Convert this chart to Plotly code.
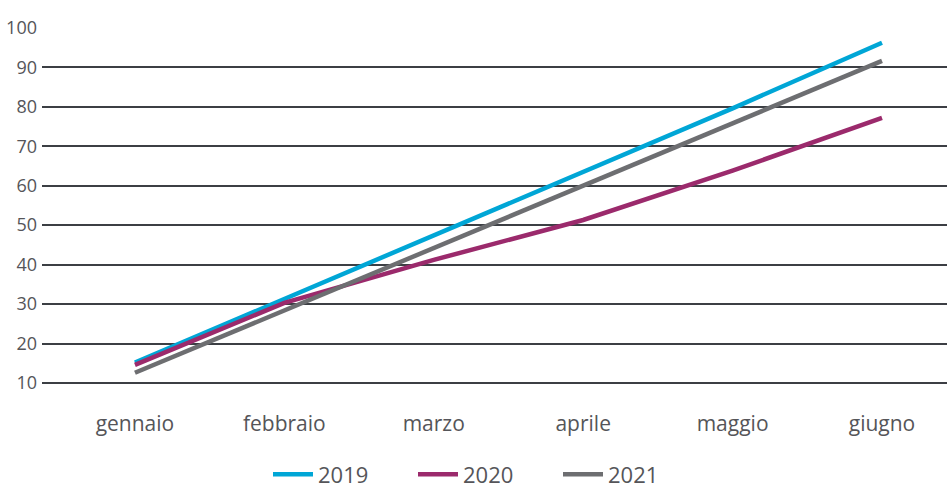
import plotly.graph_objects as go

months = ["gennaio", "febbraio", "marzo", "aprile", "maggio", "giugno"]
series_names = ["2019", "2020", "2021"]
values_2019 = [15.2, 31.3, 47.4, 63.5, 79.6, 96.2]
values_2020 = [14.6, 30.3, 41.2, 51.3, 63.8, 77.2]
values_2021 = [12.6, 28.4, 44.2, 60.0, 75.8, 91.6]
y_ticks = [10, 20, 30, 40, 50, 60, 70, 80, 90, 100]

colors = ["#00a6d6", "#9b2a6c", "#6d6e71"]
all_values = [values_2019, values_2020, values_2021]

fig = go.Figure()
for name, vals, col in zip(series_names, all_values, colors):
    fig.add_trace(go.Scatter(
        x=list(range(len(months))), y=vals, name=name, mode="lines",
        line=dict(color=col, width=4.5),
    ))

text_color = "#555559"
fig.update_layout(
    width=947, height=489,
    margin=dict(l=42, r=0, t=27, b=104),
    plot_bgcolor="white", paper_bgcolor="white",
    font=dict(family="Open Sans", color=text_color),
    showlegend=True,
    legend=dict(
        orientation="h", xref="container", yref="container",
        x=268 / 947, y=0.03, xanchor="left", yanchor="middle",
        font=dict(size=22, color=text_color),
        itemwidth=40, tracegroupgap=0,
        entrywidth=90, entrywidthmode="pixels",
    ),
    xaxis=dict(
        range=[-0.622, 5.435],
        tickmode="array", tickvals=list(range(len(months))), ticktext=months,
        showgrid=False, zeroline=False, showline=False,
        ticks="", ticklabelstandoff=24,
        tickfont=dict(size=21, color=text_color),
    ),
    yaxis=dict(
        range=[9.5, 100.2],
        tickmode="array", tickvals=y_ticks,
        showgrid=True, gridcolor="#3c3f44", gridwidth=2,
        zeroline=False, showline=False, ticks="",
        ticklabelstandoff=4,
        tickfont=dict(size=18, color=text_color),
    ),
)

fig.write_html("out.html")
